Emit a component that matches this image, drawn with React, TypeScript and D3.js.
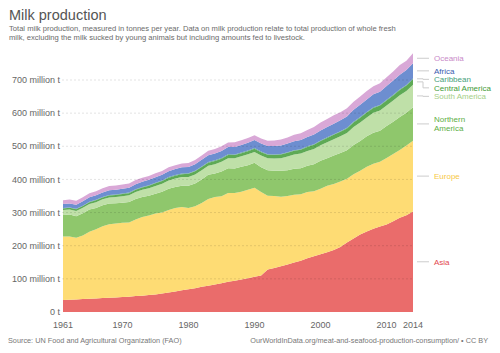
import React from 'react';
import * as d3 from 'd3';

const years = [1961,1962,1963,1964,1965,1966,1967,1968,1969,1970,1971,1972,1973,1974,1975,1976,1977,1978,1979,1980,1981,1982,1983,1984,1985,1986,1987,1988,1989,1990,1991,1992,1993,1994,1995,1996,1997,1998,1999,2000,2001,2002,2003,2004,2005,2006,2007,2008,2009,2010,2011,2012,2013,2014];

// million tonnes
const asia = [36,37,38,39,40,41,42,43,44,45,46,48,49,51,53,56,59,62,66,69,72,76,79,83,87,91,94,98,102,106,110,128,133,138,143,149,155,162,168,174,180,187,196,210,222,234,243,251,258,264,274,284,292,303];
const europe = [192,191,186,192,202,209,217,222,223,224,224,231,238,240,244,244,249,252,251,245,247,253,262,264,262,268,265,265,267,269,252,223,217,210,207,205,200,200,196,198,201,199,198,192,194,192,195,196,195,201,203,205,210,214];
const northernAmerica = [65,66,65,67,67,64,63,62,61,61,62,62,60,60,60,63,64,63,64,67,69,71,73,71,75,75,74,75,74,75,75,77,76,78,78,78,79,79,82,84,83,86,86,86,88,90,92,94,94,96,97,99,99,101];
const southAmerica = [15,15.5,16,16.5,17,17.5,18,18.5,19,19.5,20,21,21.5,22.5,23.5,24,25,25.5,26,26.5,27,27.5,27,28,29,30,31,32,33,33,35,36,37,38,41,43,44,45,46,47,48,49,50,52,54,56,57,60,61,62,64,66,66,68];
const centralAmerica = [4.5,4.7,4.9,5.1,5.3,5.5,5.7,5.9,6.1,6.3,6.6,6.9,7.2,7.5,7.8,8.1,8.4,8.7,9.0,9.3,9.5,9.7,9.6,9.5,9.7,9.6,9.5,9.2,9.3,9.8,10.1,10.4,10.7,11,11.2,11.4,11.7,12.1,12.6,13,13.3,13.5,13.5,13.8,14,14.3,14.6,14.8,15,15.2,15.5,15.9,16.2,16.6];
const caribbean = [1.2,1.2,1.3,1.3,1.4,1.4,1.4,1.5,1.5,1.5,1.6,1.6,1.7,1.7,1.8,1.8,1.8,1.9,1.9,1.9,2.0,2.0,2.0,2.0,2.0,2.0,2.0,2.0,2.0,1.9,1.8,1.7,1.6,1.6,1.6,1.7,1.7,1.7,1.8,1.8,1.8,1.8,1.8,1.8,1.9,1.9,1.9,1.9,1.9,1.9,1.9,2.0,2.0,2.0];
const africa = [12,12.3,12.6,12.9,13.2,13.5,13.8,14.1,14.4,14.7,15,15.3,15.6,16,16.5,17,17.5,18,18.5,19,19.5,20,20.5,20.5,21,22,22.5,23,23.5,24,24.5,25,25.5,26,26.5,27,27.5,28,29,30,31,32,33,34,36,37,38,39,40,42,43,44,45,46];
const oceania = [11.5,11.8,12,12.3,12.5,12.8,12.5,12.8,12.6,12.7,12.5,12.4,12.1,11.8,11.8,11.9,11.7,11.4,11.8,12.0,12.3,12.9,13.5,13.9,14.2,14.1,14.1,14.1,14.2,14.5,15.0,15.8,16.5,17.8,18.5,19.4,20.6,21.4,22.6,24.0,24.3,25.1,24.5,25.0,24.5,25.2,25.0,24.5,25.2,26.0,27.5,29.0,28.0,30.0];

const seriesNames = ['Asia','Europe','Northern America','South America','Central America','Caribbean','Africa','Oceania'];
const seriesData = [asia, europe, northernAmerica, southAmerica, centralAmerica, caribbean, africa, oceania];
const areaColors = ['#EA6C6B','#FEDC74','#8FC76C','#BFE0A8','#5EAA55','#55A67E','#6D8ED0','#D9A8D7'];
const labelColors = ['#E2474F','#F7C948','#5DAE45','#A5CF88','#3F9B38','#46A07A','#3A5BB0','#C98AC8'];

const yTicks = [0,100,200,300,400,500,600,700];
const yTickLabels = ['0 t','100 million t','200 million t','300 million t','400 million t','500 million t','600 million t','700 million t'];
const xTicks = [1961,1970,1980,1990,2000,2010,2014];

const FONT = '"Liberation Sans", Arial, Helvetica, sans-serif';

export default function App() {
  const W = 500, H = 353;
  const x = d3.scaleLinear().domain([1961, 2014]).range([63, 413]);
  const y = d3.scaleLinear().domain([0, 700]).range([312, 80]);

  const rows = years.map((yr, i) => {
    const r: any = { year: yr };
    seriesNames.forEach((n, k) => { r[n] = seriesData[k][i]; });
    return r;
  });
  const stacked = d3.stack<any>().keys(seriesNames)(rows);
  const area = d3.area<any>()
    .x((d: any) => x(d.data.year))
    .y0((d: any) => y(d[0]))
    .y1((d: any) => y(d[1]));

  // labels
  const last = rows.length - 1;
  const labels = stacked.map((s, k) => {
    const p = s[last];
    const mid = y((p[0] + p[1]) / 2);
    const lines = seriesNames[k] === 'Northern America' ? ['Northern', 'America'] : [seriesNames[k]];
    return { k, mid, lines, h: lines.length * 9, ly: mid };
  });
  const sorted = [...labels].sort((a, b) => a.mid - b.mid);
  for (let i = 1; i < sorted.length; i++) {
    const prev = sorted[i - 1];
    const cur = sorted[i];
    const minY = prev.ly + (prev.h + cur.h) / 2 - 0.5;
    if (cur.ly < minY) cur.ly = minY;
  }

  const x0 = x(2014);

  return (
    <svg width={W} height={H} style={{ position: 'absolute', left: 0, top: 0, background: '#fff' }} fontFamily={FONT}>
      <text x={9} y={20} fontSize={14.5} fill="#555">Milk production</text>
      <text x={9} y={30.5} fontSize={7.6} fill="#6a6a6a">Total milk production, measured in tonnes per year. Data on milk production relate to total production of whole fresh</text>
      <text x={9} y={40} fontSize={7.6} fill="#6a6a6a">milk, excluding the milk sucked by young animals but including amounts fed to livestock.</text>

      {stacked.map((s, k) => (
        <path key={k} d={area(s as any) || ''} fill={areaColors[k]} />
      ))}

      {yTicks.map((t, i) => (
        <g key={t}>
          {t > 0 && (
            <line x1={62} x2={413} y1={y(t)} y2={y(t)} stroke="#000" strokeOpacity={0.14} strokeDasharray="2,2" strokeWidth={0.8} />
          )}
          <text x={60} y={y(t)} dy="0.35em" textAnchor="end" fontSize={9} fill="#666">{yTickLabels[i]}</text>
        </g>
      ))}

      {xTicks.map((t) => (
        <text key={t} x={x(t)} y={328} textAnchor="middle" fontSize={9} fill="#666">{t}</text>
      ))}

      {labels.map((l) => (
        <g key={l.k}>
          <polyline
            points={`${x0 + 4},${l.mid} ${x0 + 10},${l.mid} ${x0 + 10},${l.ly} ${x0 + 16},${l.ly}`}
            fill="none" stroke="#ccc" strokeWidth={1}
          />
          {l.lines.map((ln, j) => (
            <text key={j} x={x0 + 21} y={l.ly - (l.lines.length - 1) * 4.5 + j * 9} dy="0.35em" fontSize={8} fill={labelColors[l.k]}>{ln}</text>
          ))}
        </g>
      ))}

      <text x={8} y={343} fontSize={7.3} fill="#777">Source: UN Food and Agricultural Organization (FAO)</text>
      <text x={488} y={343} textAnchor="end" fontSize={7.3} fill="#777">OurWorldInData.org/meat-and-seafood-production-consumption/ • CC BY</text>
    </svg>
  );
}
